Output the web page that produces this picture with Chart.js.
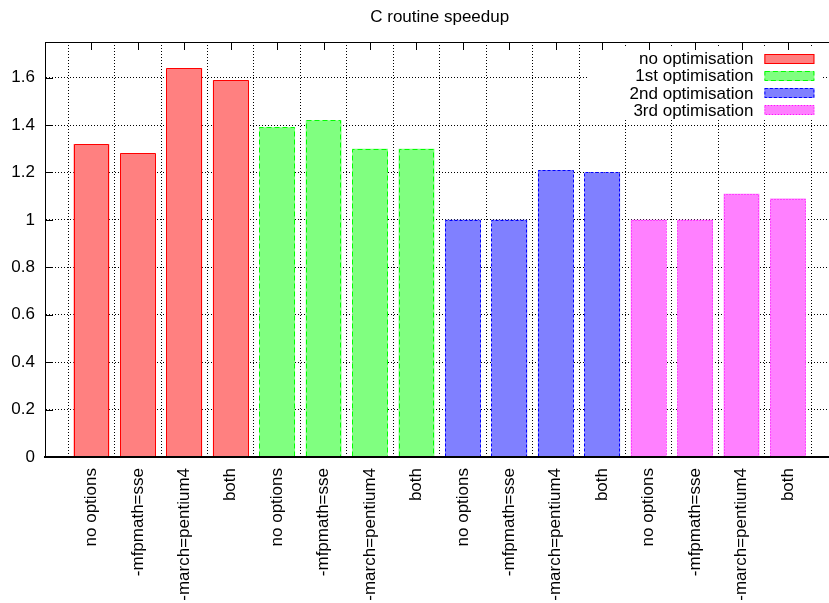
<!DOCTYPE html>
<html lang="en">
<head>
  <meta charset="UTF-8" />
  <title>C routine speedup</title>
  <style>
    html, body {
      margin: 0;
      padding: 0;
      background: #fff;
      overflow: hidden; /* plot runs a few px past the window, like the original */
    }
    #wrap {
      position: relative;
      width: 840px;
      height: 603px;
    }
  </style>
</head>
<body>
  <div id="wrap"><canvas id="speedup"></canvas></div>

  <script src="https://cdn.jsdelivr.net/npm/chart.js"></script>
  <script>
    // Data
    const compilerFlags = ['no options', '-mfpmath=sse', '-march=pentium4', 'both'];
    const seriesNames = ['no optimisation', '1st optimisation', '2nd optimisation', '3rd optimisation'];
    const noOptimisation = [1.32, 1.28, 1.64, 1.59];
    const firstOptimisation = [1.39, 1.42, 1.30, 1.30];
    const secondOptimisation = [1.00, 1.00, 1.21, 1.20];
    const thirdOptimisation = [1.00, 1.00, 1.11, 1.09];
    const yTickValues = [0, 0.2, 0.4, 0.6, 0.8, 1, 1.2, 1.4, 1.6];
    const yMax = 1.75;

    // gnuplot-ish styling
    const FILL = ['#ff8080', '#80ff80', '#8080ff', '#ff80ff'];
    const EDGE = ['#ff0000', '#00ff00', '#0000ff', '#ff00ff'];
    const DASH = [[], [5, 3], [3, 2], [1, 2]];

    Chart.defaults.font.family = "'Liberation Sans', Arial, sans-serif";
    Chart.defaults.font.size = 17;
    Chart.defaults.color = '#000';

    // one empty slot on each side, as gnuplot leaves a full step of margin
    const allSeries = [noOptimisation, firstOptimisation, secondOptimisation, thirdOptimisation];
    const labels = [''];
    allSeries.forEach(() => labels.push(...compilerFlags));
    labels.push('');

    const datasets = allSeries.map((vals, k) => ({
      label: seriesNames[k],
      data: labels.map((_, i) => {
        const j = i - 1 - 4 * k;
        return (j >= 0 && j < vals.length) ? vals[j] : null;
      }),
      backgroundColor: FILL[k],
      borderWidth: 0,
      grouped: false,
      categoryPercentage: 1,
      barPercentage: 0.77
    }));

    // dashed bar outlines, in-plot legend, top border and inward ticks
    const gnuplotFrame = {
      id: 'gnuplotFrame',
      afterDatasetsDraw(chart) {
        const ctx = chart.ctx;
        chart.data.datasets.forEach((ds, k) => {
          const meta = chart.getDatasetMeta(k);
          ctx.save();
          ctx.strokeStyle = EDGE[k];
          ctx.lineWidth = 1;
          ctx.setLineDash(DASH[k]);
          meta.data.forEach((bar, i) => {
            if (ds.data[i] == null) return;
            const { x, y, base, width } = bar.getProps(['x', 'y', 'base', 'width'], true);
            const l = Math.round(x - width / 2) + 0.5;
            const r = Math.round(x + width / 2) - 0.5;
            const t = Math.round(y) + 0.5;
            ctx.beginPath();
            ctx.moveTo(l, base);
            ctx.lineTo(l, t);
            ctx.lineTo(r, t);
            ctx.lineTo(r, base);
            ctx.stroke();
          });
          ctx.restore();
        });
      },
      afterDraw(chart) {
        const { ctx, chartArea: a, scales } = chart;
        ctx.save();

        // legend box (white background hides the grid behind it)
        const boxRight = a.right - 20;
        ctx.fillStyle = '#fff';
        ctx.fillRect(boxRight - 226, a.top + 6, 233, 70);
        ctx.font = "17px 'Liberation Sans', Arial, sans-serif";
        ctx.textAlign = 'right';
        ctx.textBaseline = 'middle';
        chart.data.datasets.forEach((ds, k) => {
          const cy = a.top + 16.5 + k * 17.2;
          ctx.fillStyle = '#000';
          ctx.fillText(ds.label, boxRight - 61, cy + 1);
          const top = Math.round(cy - 5);
          ctx.fillStyle = FILL[k];
          ctx.fillRect(boxRight - 50, top, 50, 10);
          ctx.strokeStyle = EDGE[k];
          ctx.lineWidth = 1;
          ctx.setLineDash(DASH[k]);
          ctx.strokeRect(boxRight - 49.5, top + 0.5, 49, 9);
        });
        ctx.setLineDash([]);

        // top border
        ctx.strokeStyle = '#000';
        ctx.lineWidth = 1;
        ctx.beginPath();
        ctx.moveTo(a.left, a.top + 0.5);
        ctx.lineTo(a.right, a.top + 0.5);
        ctx.stroke();

        // mirrored x ticks along the top
        ctx.beginPath();
        for (let i = 1; i < labels.length - 1; i++) {
          const px = Math.round(scales.x.getPixelForTick(i)) + 0.5;
          ctx.moveTo(px, a.top);
          ctx.lineTo(px, a.top + 8);
        }
        // y ticks point inward
        scales.y.ticks.forEach((_, j) => {
          const py = Math.round(scales.y.getPixelForTick(j)) + 0.5;
          ctx.moveTo(a.left, py);
          ctx.lineTo(a.left + 8, py);
        });
        ctx.stroke();
        ctx.restore();
      }
    };

    new Chart(document.getElementById('speedup').getContext('2d'), {
      type: 'bar',
      data: { labels: labels, datasets: datasets },
      options: {
        responsive: true,
        maintainAspectRatio: false,
        animation: false,
        layout: { padding: { left: 0, right: 5.6, top: 0, bottom: 0 } },
        scales: {
          x: {
            offset: false,
            grid: { color: '#000', lineWidth: 1, drawTicks: false },
            border: { display: true, color: '#000', width: 2, dash: [1, 2], z: 1 },
            ticks: {
              autoSkip: false,
              maxRotation: 90,
              minRotation: 90,
              padding: 11,
              color: '#000'
            },
            afterFit(scale) {
              scale.height = 146;
              scale.paddingLeft = 0;
              scale.paddingRight = 0;
            }
          },
          y: {
            min: 0,
            max: yMax,
            grid: { color: '#000', lineWidth: 1, drawTicks: false },
            border: { display: true, color: '#000', width: 1, dash: [1, 2], z: 1 },
            ticks: {
              padding: 10,
              color: '#000',
              callback: v => String(Math.round(v * 10) / 10)
            },
            afterBuildTicks(scale) {
              scale.ticks = yTickValues.map(v => ({ value: v }));
            },
            afterFit(scale) {
              scale.width = 45;
              scale.paddingTop = 0;
              scale.paddingBottom = 0;
            }
          }
        },
        plugins: {
          legend: { display: false },
          tooltip: { enabled: false },
          title: {
            display: true,
            text: 'C routine speedup',
            fullSize: false,
            color: '#000',
            font: { size: 17, weight: 'normal' },
            padding: { top: 7, bottom: 14.6 }
          }
        }
      },
      plugins: [gnuplotFrame]
    });
  </script>
</body>
</html>
